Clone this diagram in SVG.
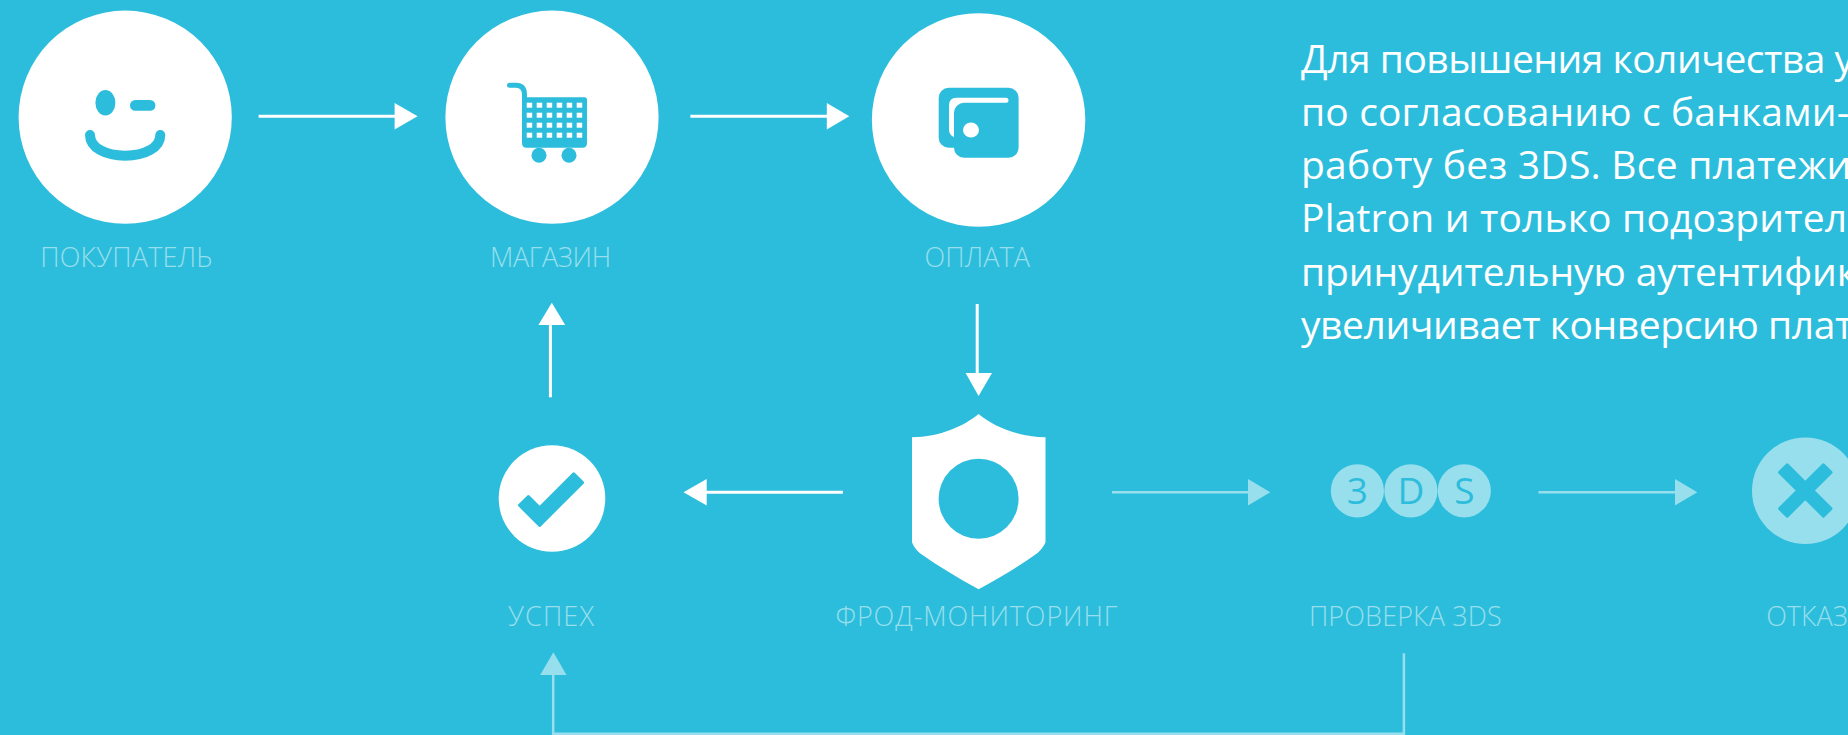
<svg xmlns="http://www.w3.org/2000/svg" width="1848" height="735" viewBox="0 0 1848 735">
<style>
.w{fill:#fff}
.p{fill:#97dfec}
.b{fill:#2dbddc}
.lw{stroke:#fff;stroke-width:3;fill:none}
.lp{stroke:#97dfec;stroke-width:2.5;fill:none}
.rs{stroke:#2dbddc;stroke-width:3;stroke-linejoin:round}
.lab{font-family:"Open Sans","Noto Sans",sans-serif;font-size:27px;font-weight:300;fill:#97dfec;text-anchor:middle}
.txt{font-family:"Open Sans","Noto Sans",sans-serif;font-size:39px;fill:#fff}
.g{font-family:"Open Sans","Noto Sans",sans-serif;font-size:37px;fill:#2dbddc;text-anchor:middle}
</style>
<rect width="1848" height="735" class="b"/>
<g id="connectors">
<path class="lw" d="M258.6 116.3H396"/><path class="w" d="M394.6 103L417.6 116.3L394.6 129.5z"/>
<path class="lw" d="M690.4 116.3H828"/><path class="w" d="M826.8 103L849.3 116.3L826.8 129.5z"/>
<path class="lw" d="M550.4 397.3V324"/><path class="w" d="M551.8 302.7L565.2 325H538.4z"/>
<path class="lw" d="M977.2 304V374"/><path class="w" d="M978.6 396L992 373H965.6z"/>
<path class="lw" d="M842.9 492.3H705"/><path class="w" d="M706.7 479L683.5 492.3L706.7 505.5z"/>
<path class="lp" d="M1112 492.3H1249"/><path class="p" d="M1248 479L1270.3 492.3L1248 505.5z"/>
<path class="lp" d="M1538.5 492.3H1676"/><path class="p" d="M1675 479L1697.3 492.3L1675 505.5z"/>
<path class="lp" d="M1403.9 653.3V733.8H553.2V674"/><path class="p" d="M553.4 652.3L566.5 675H540.2z"/>
</g>
<g id="node-buyer">
<circle class="w" cx="125.2" cy="117.2" r="106.6"/>
<ellipse class="b" cx="105.4" cy="102.8" rx="10" ry="12.8"/>
<rect class="b" x="130" y="100" width="25.4" height="10.7" rx="5.3"/>
<path d="M90 135C90 148 106 155.7 125.2 155.7S160.3 148 160.3 135" fill="none" stroke="#2dbddc" stroke-width="10" stroke-linecap="round"/>
<text class="lab" x="126.3" y="267" textLength="172">ПОКУПАТЕЛЬ</text>
</g>
<g id="node-shop">
<circle class="w" cx="552" cy="117.2" r="106.6"/>
<path d="M509.5 85.2H516Q524.5 85.2 524.5 95V100" fill="none" stroke="#2dbddc" stroke-width="5" stroke-linecap="round"/>
<path class="b" d="M522 97.3H584.5Q587 97.3 587 100V143Q587 147.7 582.5 147.7H526.5Q522 147.7 522 143z"/>
<g class="w">
<rect x="526.7" y="102.7" width="5.5" height="5"/><rect x="536.7" y="102.7" width="5.5" height="5"/><rect x="546.7" y="102.7" width="5.5" height="5"/><rect x="556.7" y="102.7" width="5.5" height="5"/><rect x="566.7" y="102.7" width="5.5" height="5"/><rect x="576.7" y="102.7" width="5.5" height="5"/>
<rect x="526.7" y="112.7" width="5.5" height="5"/><rect x="536.7" y="112.7" width="5.5" height="5"/><rect x="546.7" y="112.7" width="5.5" height="5"/><rect x="556.7" y="112.7" width="5.5" height="5"/><rect x="566.7" y="112.7" width="5.5" height="5"/><rect x="576.7" y="112.7" width="5.5" height="5"/>
<rect x="526.7" y="122.7" width="5.5" height="5"/><rect x="536.7" y="122.7" width="5.5" height="5"/><rect x="546.7" y="122.7" width="5.5" height="5"/><rect x="556.7" y="122.7" width="5.5" height="5"/><rect x="566.7" y="122.7" width="5.5" height="5"/><rect x="576.7" y="122.7" width="5.5" height="5"/>
<rect x="526.7" y="132.7" width="5.5" height="5"/><rect x="536.7" y="132.7" width="5.5" height="5"/><rect x="546.7" y="132.7" width="5.5" height="5"/><rect x="556.7" y="132.7" width="5.5" height="5"/><rect x="566.7" y="132.7" width="5.5" height="5"/><rect x="576.7" y="132.7" width="5.5" height="5"/>
</g>
<circle class="b" cx="539" cy="155.3" r="7.5"/><circle class="b" cx="569" cy="155.3" r="7.5"/>
<text class="lab" x="550.6" y="267" textLength="121">МАГАЗИН</text>
</g>
<g id="node-payment">
<circle class="w" cx="978.6" cy="120" r="106.7"/>
<path class="b" d="M948.7 87.7H1008.6A10 10 0 0 1 1018.6 97.7V147.7A10 10 0 0 1 1008.6 157.7H964A10 10 0 0 1 954 147.7H948.7A10 10 0 0 1 938.7 137.7V97.7A10 10 0 0 1 948.7 87.7z"/>
<path class="w" d="M954 137C951 136 949 133 949 130V105A7 7 0 0 1 956 97.7H1006A2.5 2.5 0 0 1 1006 102.7H964A10 10 0 0 0 954 112.7z"/>
<ellipse class="w" cx="971" cy="130" rx="8" ry="7.6"/>
<text class="lab" x="977.3" y="267" textLength="105.5">ОПЛАТА</text>
</g>
<g id="node-success">
<circle class="w" cx="552" cy="498.5" r="53.3"/>
<polygon class="b rs" points="519.5,505.3 528.4,496.5 539.7,507.8 573.7,473.8 582.5,482.6 539.7,525.4"/>
<text class="lab" x="551" y="626.3" textLength="85.8">УСПЕХ</text>
</g>
<g id="node-fraud">
<path class="w" d="M978.6 414C964 426 940 437 912 437.3V542.3Q914 548 920 553.3C938 566 958 578 978.6 589.3C999.2 578 1019.2 566 1037.2 553.3Q1043.2 548 1045.5 542.3V437.3C1017 437 993 426 978.6 414z"/>
<circle class="b" cx="978.6" cy="498.8" r="40"/>
<text class="lab" x="976.4" y="626.3" textLength="282">ФРОД-МОНИТОРИНГ</text>
</g>
<g id="node-3ds">
<circle class="p" cx="1357.4" cy="490.8" r="26.6"/>
<circle class="p" cx="1410.9" cy="490.8" r="26.6"/>
<circle class="p" cx="1464.3" cy="490.8" r="26.6"/>
<text class="g" x="1357.4" y="504">3</text>
<text class="g" x="1410.9" y="504">D</text>
<text class="g" x="1464.3" y="504">S</text>
<text class="lab" x="1405.3" y="626.3" textLength="192.7">ПРОВЕРКА 3DS</text>
</g>
<g id="node-decline">
<circle class="p" cx="1805.3" cy="490.7" r="53.3"/>
<polygon class="b rs" transform="translate(1805.3 490.5)" points="0,-7.6 -18.1,-25.7 -25.7,-18.1 -7.6,0 -25.7,18.1 -18.1,25.7 0,7.6 18.1,25.7 25.7,18.1 7.6,0 25.7,-18.1 18.1,-25.7"/>
<text class="lab" x="1807" y="626.3">ОТКАЗ</text>
</g>
<g id="description">
<text class="txt" x="1301" y="72.5" letter-spacing="-0.5">Для повышения количества у</text>
<text class="txt" x="1301" y="125.8" letter-spacing="0.13">по согласованию с банками-</text>
<text class="txt" x="1301" y="179" letter-spacing="0.23">работу без 3DS. Все платежи</text>
<text class="txt" x="1301" y="232.3" letter-spacing="0.17">Platron и только подозрительн</text>
<text class="txt" x="1301" y="285.5" letter-spacing="-0.12">принудительную аутентифик</text>
<text class="txt" x="1301" y="338.6" letter-spacing="-0.42">увеличивает конверсию плат</text>
</g>
</svg>
